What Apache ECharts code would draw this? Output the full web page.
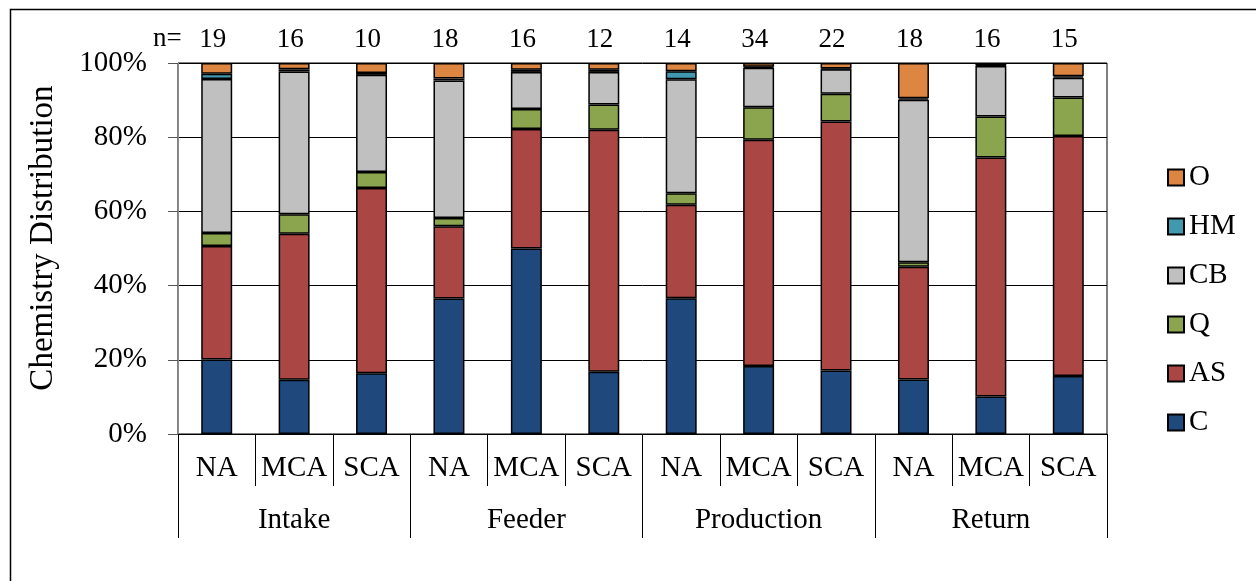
<!DOCTYPE html>
<html>
<head>
<meta charset="utf-8">
<script src="https://cdn.jsdelivr.net/npm/echarts@6/dist/echarts.min.js"></script>
<style>
  html, body { margin: 0; padding: 0; background: #fff; }
  #chart { width: 1256px; height: 581px; }
</style>
</head>
<body>
<div id="chart"></div>
<script>
// Sample groups (bottom level) and water sources (top level)
const subCategories = ['NA', 'MCA', 'SCA', 'NA', 'MCA', 'SCA', 'NA', 'MCA', 'SCA', 'NA', 'MCA', 'SCA'];
const groups = ['Intake', 'Feeder', 'Production', 'Return'];
const sampleCounts = ['19', '16', '10', '18', '16', '12', '14', '34', '22', '18', '16', '15'];

// Chemistry shares, percent of each sample group
const C  = [20.1, 14.6, 16.4, 36.5, 50.0, 16.8, 36.6, 18.3, 17.1, 14.7, 10.1, 15.6];
const AS = [30.6, 39.4, 49.9, 19.5, 32.2, 65.2, 25.2, 61.0, 67.1, 30.4, 64.4, 64.7];
const Q  = [3.5, 5.2, 4.3, 2.2, 5.4, 6.8, 3.1, 8.8, 7.5, 1.2, 11.1, 10.4];
const CB = [41.5, 38.5, 26.2, 37.1, 10.0, 8.8, 30.7, 10.6, 6.6, 43.8, 13.6, 5.3];
const HM = [1.4, 0.6, 0.5, 0.5, 0.6, 0.6, 2.2, 0.3, 0.2, 0.4, 0.2, 0.4];
const O  = [2.9, 1.7, 2.7, 4.2, 1.8, 1.8, 2.2, 1.0, 1.5, 9.5, 0.6, 3.6];

const yTicks = { min: 0, max: 100, interval: 20 };

const FONT = "'Liberation Serif', 'Times New Roman', serif";

const seriesDefs = [
  { name: 'C',  data: C,  color: '#1F497D' },
  { name: 'AS', data: AS, color: '#AA4644' },
  { name: 'Q',  data: Q,  color: '#8BA54F' },
  { name: 'CB', data: CB, color: '#C0C0C0' },
  { name: 'HM', data: HM, color: '#4198AF' },
  { name: 'O',  data: O,  color: '#DD8642' }
];

const chart = echarts.init(document.getElementById('chart'), null, { renderer: 'canvas' });

chart.setOption({
  animation: false,
  backgroundColor: '#fff',
  textStyle: { fontFamily: FONT, color: '#000' },
  grid: {
    left: 178, right: 149, top: 63, bottom: 147,
    show: true, borderColor: '#000', borderWidth: 1, backgroundColor: 'transparent'
  },
  legend: {
    orient: 'vertical',
    left: 1162, top: 158,
    itemWidth: 16, itemHeight: 16, itemGap: 20,
    icon: 'rect',
    data: ['O', 'HM', 'CB', 'Q', 'AS', 'C'],
    textStyle: { fontFamily: FONT, fontSize: 29, color: '#000', lineHeight: 29 },
    selectedMode: false
  },
  xAxis: [
    {
      type: 'category',
      data: subCategories,
      position: 'bottom',
      axisLine: { show: true, lineStyle: { color: '#000', width: 1 } },
      axisTick: { show: true, length: 52, interval: 0, lineStyle: { color: '#000', width: 1 } },
      axisLabel: { interval: 0, margin: 20, fontFamily: FONT, fontSize: 29, color: '#000' },
      splitLine: { show: false }
    },
    {
      type: 'category',
      data: groups,
      position: 'bottom',
      axisLine: { show: false },
      axisTick: { show: true, length: 104, interval: 0, lineStyle: { color: '#000', width: 1 } },
      axisLabel: { interval: 0, margin: 72, fontFamily: FONT, fontSize: 29, color: '#000' },
      splitLine: { show: false }
    },
    {
      type: 'category',
      data: sampleCounts,
      position: 'top',
      axisLine: { show: false },
      axisTick: { show: false },
      axisLabel: { interval: 0, margin: 10, fontFamily: FONT, fontSize: 27, color: '#000', padding: [0, 8, 0, 0] },
      splitLine: { show: false }
    }
  ],
  yAxis: {
    type: 'value',
    min: yTicks.min, max: yTicks.max, interval: yTicks.interval,
    axisLine: { show: true, lineStyle: { color: '#8c8c8c', width: 1 } },
    axisTick: { show: true, length: 10, lineStyle: { color: '#555' } },
    axisLabel: { margin: 31, fontFamily: FONT, fontSize: 29, color: '#000', formatter: '{value}%' },
    splitLine: { show: true, lineStyle: { color: '#000', width: 1 } }
  },
  series: seriesDefs.map(s => ({
    name: s.name,
    type: 'bar',
    stack: 'total',
    xAxisIndex: 0,
    barWidth: '40%',
    data: s.data,
    itemStyle: { color: s.color, borderColor: '#000', borderWidth: 1.5 },
    emphasis: { disabled: true }
  })),
  graphic: [
    {
      type: 'rect',
      shape: { x: 10.5, y: 9.5, width: 1260, height: 600 },
      style: { fill: 'none', stroke: '#000', lineWidth: 1.5 },
      silent: true, z: -1
    },
    {
      type: 'text',
      left: 153, top: 25,
      style: { text: 'n=', font: "27px 'Liberation Serif', 'Times New Roman', serif", fill: '#000' }
    },
    {
      type: 'text',
      x: 43, y: 238,
      rotation: Math.PI / 2,
      style: {
        text: 'Chemistry Distribution',
        font: "33px 'Liberation Serif', 'Times New Roman', serif",
        fill: '#000', align: 'center', verticalAlign: 'middle'
      }
    }
  ]
});
</script>
</body>
</html>
